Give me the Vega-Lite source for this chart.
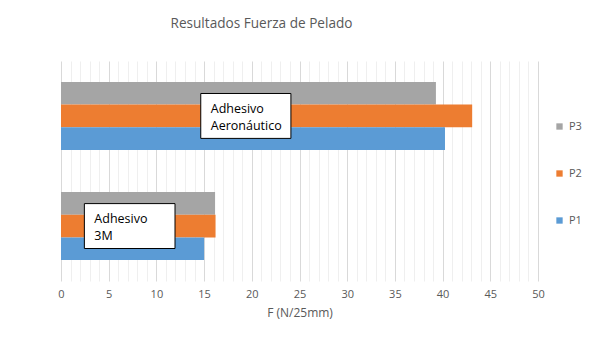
{
  "$schema": "https://vega.github.io/schema/vega-lite/v6.json",
  "width": 477,
  "height": 220,
  "autosize": {"type": "none"},
  "padding": {"left": 61, "top": 61, "right": 62, "bottom": 76},
  "background": "white",
  "config": {"view": {"stroke": null}, "font": "Open Sans"},
  "title": {
    "text": "Resultados Fuerza de Pelado",
    "fontSize": 13.6,
    "fontWeight": "normal",
    "color": "#595959",
    "font": "Open Sans",
    "dx": -38,
    "offset": 30
  },
  "datasets": {
    "bars": [
      {"adhesivo": "Adhesivo Aeronáutico", "serie": "P3", "fuerza": 39.3},
      {"adhesivo": "Adhesivo Aeronáutico", "serie": "P2", "fuerza": 43.1},
      {"adhesivo": "Adhesivo Aeronáutico", "serie": "P1", "fuerza": 40.25},
      {"adhesivo": "Adhesivo 3M", "serie": "P3", "fuerza": 16.15},
      {"adhesivo": "Adhesivo 3M", "serie": "P2", "fuerza": 16.2},
      {"adhesivo": "Adhesivo 3M", "serie": "P1", "fuerza": 15.0}
    ],
    "notes": [
      {"adhesivo": "Adhesivo Aeronáutico", "fuerza": 14.65, "fin": 24.1, "texto": "Adhesivo|Aeronáutico"},
      {"adhesivo": "Adhesivo 3M", "fuerza": 2.45, "fin": 11.95, "texto": "Adhesivo|3M"}
    ]
  },
  "encoding": {
    "y": {
      "field": "adhesivo",
      "type": "nominal",
      "sort": ["Adhesivo Aeronáutico", "Adhesivo 3M"],
      "axis": null,
      "scale": {"paddingInner": 0.382, "paddingOuter": 0.19}
    },
    "x": {
      "field": "fuerza",
      "type": "quantitative",
      "scale": {"domain": [0, 50], "nice": false},
      "axis": {
        "title": "F (N/25mm)",
        "values": [0,1,2,3,4,5,6,7,8,9,10,11,12,13,14,15,16,17,18,19,20,21,22,23,24,25,26,27,28,29,30,31,32,33,34,35,36,37,38,39,40,41,42,43,44,45,46,47,48,49,50],
        "labelExpr": "datum.value % 5 === 0 ? datum.label : ''",
        "labelOverlap": false,
        "labelFlush": false,
        "domain": false,
        "ticks": false,
        "grid": true,
        "gridColor": {"condition": {"test": "datum.value % 5 === 0", "value": "#d9d9d9"}, "value": "#efefef"},
        "gridWidth": 1,
        "labelColor": "#595959",
        "labelFontSize": 11,
        "labelPadding": 7,
        "labelFont": "Open Sans",
        "titleColor": "#595959",
        "titleFontSize": 12,
        "titleFontWeight": "normal",
        "titleFont": "Open Sans",
        "titlePadding": 8
      }
    }
  },
  "layer": [
    {
      "data": {"name": "bars"},
      "mark": {"type": "bar"},
      "encoding": {
        "yOffset": {
          "field": "serie",
          "type": "nominal",
          "sort": ["P3", "P2", "P1"],
          "scale": {"paddingInner": 0, "paddingOuter": 0}
        },
        "color": {
          "field": "serie",
          "type": "nominal",
          "scale": {"domain": ["P3", "P2", "P1"], "range": ["#A5A5A5", "#ED7D31", "#5B9BD5"]},
          "legend": {
            "title": null,
            "orient": "none",
            "legendX": 493,
            "legendY": 60,
            "padding": 0,
            "symbolType": "square",
            "symbolSize": 40,
            "symbolStrokeWidth": 0,
            "labelFontSize": 11,
            "labelColor": "#595959",
            "labelOffset": 4,
            "rowPadding": 35,
            "labelFont": "Open Sans"
          }
        }
      }
    },
    {
      "data": {"name": "notes"},
      "mark": {"type": "bar", "fill": "white", "stroke": "black", "strokeWidth": 1, "height": {"band": 0.66}},
      "encoding": {
        "x2": {"field": "fin"}
      }
    },
    {
      "data": {"name": "notes"},
      "mark": {"type": "text", "align": "left", "baseline": "middle", "dx": 10, "dy": -7, "fontSize": 12.5, "lineHeight": 17, "lineBreak": "|", "color": "black", "font": "Open Sans"},
      "encoding": {
        "text": {"field": "texto"}
      }
    }
  ]
}
